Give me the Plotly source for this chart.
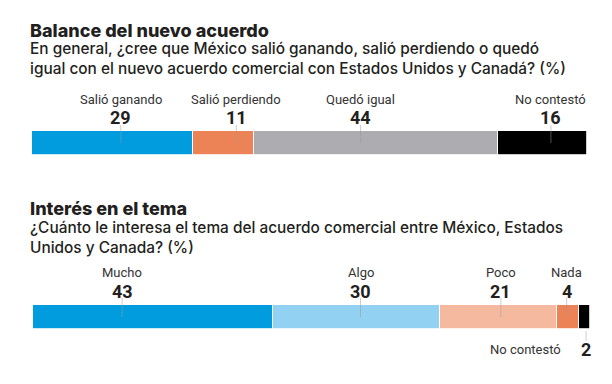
import plotly.graph_objects as go

# ---- data ----
balance_cats = ["Salió ganando", "Salió perdiendo", "Quedó igual", "No contestó"]
balance_vals = [29, 11, 44, 16]
balance_colors = ["#009cde", "#ec8356", "#adacb1", "#000000"]
balance_label_pos = [16.0, 36.8, 59.2, 93.5]   # label anchor, % along bar

interes_cats = ["Mucho", "Algo", "Poco", "Nada", "No contestó"]
interes_vals = [43, 30, 21, 4, 2]
interes_colors = ["#009cde", "#92d1f1", "#f5b9a0", "#ec8356", "#000000"]
interes_label_pos = [16.0, 58.8, 84.0, 95.8, 99.3]

title1 = "Balance del nuevo acuerdo"
sub1 = "En general, ¿cree que México salió ganando, salió perdiendo o quedó<br>igual con el nuevo acuerdo comercial con Estados Unidos y Canadá? (%)"
title2 = "Interés en el tema"
sub2 = "¿Cuánto le interesa el tema del acuerdo comercial entre México, Estados<br>Unidos y Canada? (%)"

OFF = 8  # page body margin
W, H = 612 - OFF, 384 - OFF
def py(p):
    return 1 - (p - OFF) / H
def px(p):
    return (p - OFF) / W

TITLE_FONT = "Inter, Roboto, sans-serif"
LABEL_FONT = "Roboto, sans-serif"
NUM_FONT = "Roboto, sans-serif"

fig = go.Figure()

def add_bar(cats, vals, colors, xa, ya):
    base = 0
    for c, v, col in zip(cats, vals, colors):
        fig.add_trace(go.Bar(
            x=[v], y=[0], base=[base], orientation="h", name=c,
            marker=dict(color=col, line=dict(color="white", width=0.8)),
            width=1, xaxis=xa, yaxis=ya, showlegend=False, hoverinfo="skip"))
        base += v

add_bar(balance_cats, balance_vals, balance_colors, "x", "y")
add_bar(interes_cats, interes_vals, interes_colors, "x2", "y2")

annotations = []
shapes = []
LINE = dict(color="#9a9a9a", width=0.5)

def labels(cats, vals, pos, xref, label_y, num_y, line_top, line_bot, skip_last=False):
    n = len(cats)
    for i, (c, v, p) in enumerate(zip(cats, vals, pos)):
        if skip_last and i == n - 1:
            continue
        annotations.append(dict(x=p, y=py(label_y), xref=xref, yref="paper",
                                 text=c, showarrow=False, xanchor="center", yanchor="middle",
                                 font=dict(family=LABEL_FONT, size=13, color="#333333")))
        annotations.append(dict(x=p, y=py(num_y), xref=xref, yref="paper",
                                 text=str(v), showarrow=False, xanchor="center", yanchor="middle",
                                 font=dict(family=NUM_FONT, size=18, color="#231f20", weight="bold")))
        shapes.append(dict(type="line", xref=xref, yref="paper", x0=p, x1=p,
                           y0=py(line_top), y1=py(line_bot), line=LINE))

labels(balance_cats, balance_vals, balance_label_pos, "x", 99, 117, 125, 143)
labels(interes_cats, interes_vals, interes_label_pos, "x2", 272, 291, 298, 317, skip_last=True)

# "No contestó 2" below second bar
annotations.append(dict(x=px(563), y=py(349), xref="paper", yref="paper",
                        text=interes_cats[-1], showarrow=False, xanchor="right", yanchor="middle",
                        font=dict(family=LABEL_FONT, size=13, color="#333333")))
annotations.append(dict(x=interes_label_pos[-1], y=py(349), xref="x2", yref="paper",
                        text=str(interes_vals[-1]), showarrow=False, xanchor="center", yanchor="middle",
                        font=dict(family=NUM_FONT, size=18, color="#231f20", weight="bold")))
shapes.append(dict(type="line", xref="x2", yref="paper", x0=interes_label_pos[-1], x1=interes_label_pos[-1],
                   y0=py(331), y1=py(341), line=LINE))

# titles
for t, s, ty, sy in [(title1, sub1, 30, 59), (title2, sub2, 208, 237)]:
    annotations.append(dict(x=px(28), y=py(ty), xref="paper", yref="paper", text=t,
                            showarrow=False, xanchor="left", yanchor="middle", align="left",
                            font=dict(family=TITLE_FONT, size=18, color="#231f20", weight=800)))
    annotations.append(dict(x=px(28), y=py(sy), xref="paper", yref="paper", text=s,
                            showarrow=False, xanchor="left", yanchor="middle", align="left",
                            font=dict(family=TITLE_FONT, size=15.4, color="#231f20", weight=500)))

ax = dict(range=[0, 100], showgrid=False, zeroline=False, showticklabels=False, fixedrange=True)
ay = dict(range=[-0.5, 0.5], showgrid=False, zeroline=False, showticklabels=False, fixedrange=True)

fig.update_layout(
    width=W, height=H, margin=dict(l=0, r=0, t=0, b=0),
    paper_bgcolor="white", plot_bgcolor="white",
    barmode="stack", bargap=0,
    xaxis=dict(domain=[px(32), px(587)], anchor="y", **ax),
    yaxis=dict(domain=[py(155), py(131)], anchor="x", **ay),
    xaxis2=dict(domain=[px(33), px(590)], anchor="y2", **ax),
    yaxis2=dict(domain=[py(329), py(305)], anchor="x2", **ay),
    annotations=annotations, shapes=shapes,
)

fig.write_html("out.html")
